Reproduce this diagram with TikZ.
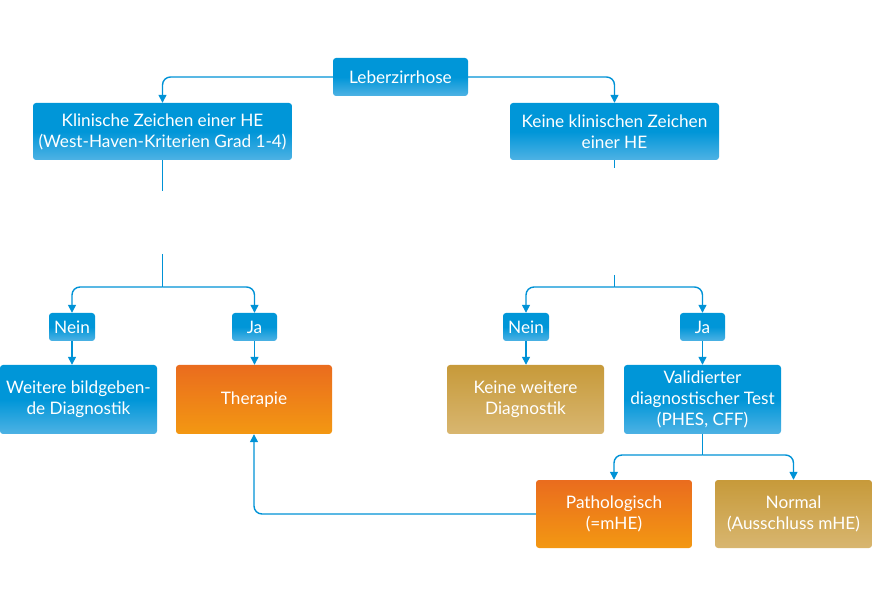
\documentclass[tikz,border=0pt]{standalone}
\usepackage{fontspec}
\setmainfont{Lato}
\usepackage{tikz}
\usetikzlibrary{arrows.meta, positioning, calc}
\definecolor{boxblue}{RGB}{0, 150, 216}
\definecolor{boxbluelt}{RGB}{78, 178, 228}
\definecolor{boxorange}{RGB}{234, 108, 30}
\definecolor{boxorangelt}{RGB}{243, 152, 18}
\definecolor{boxgold}{RGB}{199, 154, 58}
\definecolor{boxgoldlt}{RGB}{216, 182, 112}
\definecolor{linkblue}{RGB}{0, 146, 214}
\tikzset{
  box/.style={rounded corners=3pt, align=center, text=white, inner sep=2pt,
    font=\fontsize{17.2}{21}\selectfont},
  bluebox/.style={box, top color=boxblue, bottom color=boxbluelt, middle color=boxblue},
  orangebox/.style={box, top color=boxorange, bottom color=boxorangelt},
  goldbox/.style={box, top color=boxgold, bottom color=boxgoldlt},
  link/.style={draw=linkblue, line width=1.4pt},
  conn/.style={link, rounded corners=8pt, -{Triangle[length=8pt, width=8pt]}}
}

\begin{document}
\begin{tikzpicture}[x=1pt, y=-1pt]
  \useasboundingbox (0,0) rectangle (873,593);

  % Top level
  \node[bluebox, minimum width=135pt, minimum height=38pt] (leber) at (400.5,77) {Leberzirrhose};
  \node[bluebox, minimum width=259pt, minimum height=57pt] (klin) at (162.5,131.5) {Klinische Zeichen einer HE\\(West-Haven-Kriterien Grad 1-4)};
  \node[bluebox, minimum width=209pt, minimum height=57pt] (keine) at (614.5,131.5) {Keine klinischen Zeichen\\einer HE};

  \draw[conn] (leber.west) -| (klin.north);
  \draw[conn] (leber.east) -| (keine.north);

  % Stubs and branch points
  \coordinate (lstub) at (162.5,191);
  \coordinate (ltop) at (162.5,254);
  \coordinate (lbranch) at (162.5,287);
  \coordinate (rstub) at (614.5,168);
  \coordinate (rtop) at (614.5,275);
  \coordinate (rbranch) at (614.5,287);

  \draw[link] (klin.south) -- (lstub);
  \draw[link] (ltop) -- (lbranch);
  \draw[link] (keine.south) -- (rstub);
  \draw[link] (rtop) -- (rbranch);

  % Left branch
  \node[bluebox, minimum width=46pt, minimum height=28pt] (nein1) at (72,327) {Nein};
  \node[bluebox, minimum width=45pt, minimum height=28pt] (ja1) at (254.5,327) {Ja};
  \node[bluebox, minimum width=157pt, minimum height=69pt] (weitere) at (78.5,399.5) {Weitere bildgeben-\\de Diagnostik};
  \node[orangebox, minimum width=156pt, minimum height=69pt] (therapie) at (254,399.5) {Therapie};

  \draw[conn] (lbranch) -| (nein1.north);
  \draw[conn] (lbranch) -| (ja1.north);
  \draw[conn] (nein1.south) -- (nein1.south |- weitere.north);
  \draw[conn] (ja1.south) -- (ja1.south |- therapie.north);

  % Right branch
  \node[bluebox, minimum width=46pt, minimum height=28pt] (nein2) at (526,327) {Nein};
  \node[bluebox, minimum width=45pt, minimum height=28pt] (ja2) at (702.5,327) {Ja};
  \node[goldbox, minimum width=157pt, minimum height=69pt] (keinew) at (525.5,399.5) {Keine weitere\\Diagnostik};
  \node[bluebox, minimum width=157pt, minimum height=69pt] (valid) at (702.5,399.5) {Validierter\\diagnostischer Test\\(PHES, CFF)};

  \draw[conn] (rbranch) -| (nein2.north);
  \draw[conn] (rbranch) -| (ja2.north);
  \draw[conn] (nein2.south) -- (nein2.south |- keinew.north);
  \draw[conn] (ja2.south) -- (ja2.south |- valid.north);

  % Test results
  \node[orangebox, minimum width=156pt, minimum height=68pt] (patho) at (614,514) {Pathologisch\\(=mHE)};
  \node[goldbox, minimum width=157pt, minimum height=68pt] (normal) at (793.5,514) {Normal\\(Ausschluss mHE)};

  \coordinate (vbranch) at (702.5,455);
  \draw[link] (valid.south) -- (vbranch);
  \draw[conn] (vbranch) -| (patho.north);
  \draw[conn] (vbranch) -| (normal.north);

  % Back to therapy
  \draw[conn] (patho.west) -| (therapie.south);
\end{tikzpicture}
\end{document}
